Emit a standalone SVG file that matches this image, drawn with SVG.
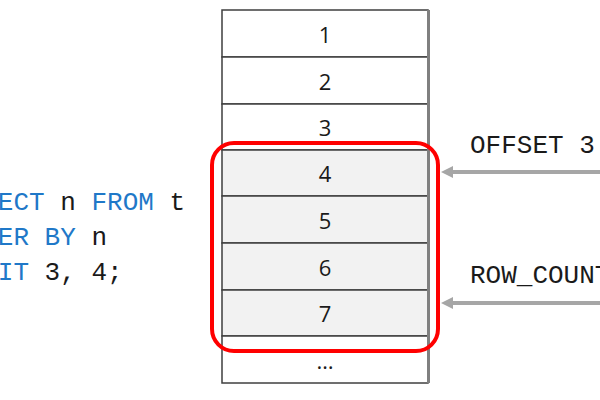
<svg xmlns="http://www.w3.org/2000/svg" width="600" height="400" viewBox="0 0 600 400">
<defs>
<style>
.row{stroke:#3f3f3f;stroke-width:1.5}
.w{fill:#ffffff}
.g{fill:#f2f2f2}
.num{font-family:"Open Sans","Liberation Sans",sans-serif;font-size:22px;fill:#1a1a1a;text-anchor:middle}
.code{font-family:"Liberation Mono","DejaVu Sans Mono",monospace;font-size:26px;fill:#1a1a1a}
.kw{fill:#1f78c8}
.conn{stroke:#a6a6a6;stroke-width:4;fill:none}
</style>
<marker id="ah" markerWidth="3" markerHeight="3" refX="2" refY="1.5" orient="auto" markerUnits="strokeWidth">
<path d="M0,0 L3,1.5 L0,3 z" fill="#a6a6a6"/>
</marker>
</defs>
<rect width="600" height="400" fill="#ffffff"/>
<g id="code">
<text class="code" x="-49" y="210"><tspan class="kw">SELECT</tspan> n <tspan class="kw">FROM</tspan> t</text>
<text class="code" x="-49" y="245"><tspan class="kw">ORDER BY</tspan> n</text>
<text class="code" x="-49" y="280"><tspan class="kw">LIMIT</tspan> 3, 4;</text>
</g>
<g id="table">
<g id="row1"><rect class="row w" x="222" y="10" width="206" height="47"/><text class="num" x="325" y="43">1</text></g>
<g id="row2"><rect class="row w" x="222" y="57" width="206" height="47"/><text class="num" x="325" y="90">2</text></g>
<g id="row3"><rect class="row w" x="222" y="104" width="206" height="46"/><text class="num" x="325" y="136">3</text></g>
<g id="row4"><rect class="row g" x="222" y="150" width="206" height="46"/><text class="num" x="325" y="182">4</text></g>
<g id="row5"><rect class="row g" x="222" y="196" width="206" height="47"/><text class="num" x="325" y="229">5</text></g>
<g id="row6"><rect class="row g" x="222" y="243" width="206" height="47"/><text class="num" x="325" y="276">6</text></g>
<g id="row7"><rect class="row g" x="222" y="290" width="206" height="46"/><text class="num" x="325" y="322">7</text></g>
<g id="row8"><rect class="row w" x="222" y="336" width="206" height="47"/><text class="num" x="325" y="369">…</text></g>
<line x1="428.5" y1="10" x2="428.5" y2="383" stroke="#808080" stroke-width="3"/>
</g>
<g id="selection"><rect x="212" y="143" width="226" height="208" rx="22" ry="22" fill="none" stroke="#ff0000" stroke-width="4"/></g>
<g id="labels">
<text class="code" x="470" y="153">OFFSET 3</text>
<text class="code" x="470" y="283">ROW_COUNT 4</text>
</g>
<g id="connectors">
<line class="conn" x1="600" y1="172" x2="445" y2="172" marker-end="url(#ah)"/>
<line class="conn" x1="600" y1="303" x2="445" y2="303" marker-end="url(#ah)"/>
</g>
</svg>
